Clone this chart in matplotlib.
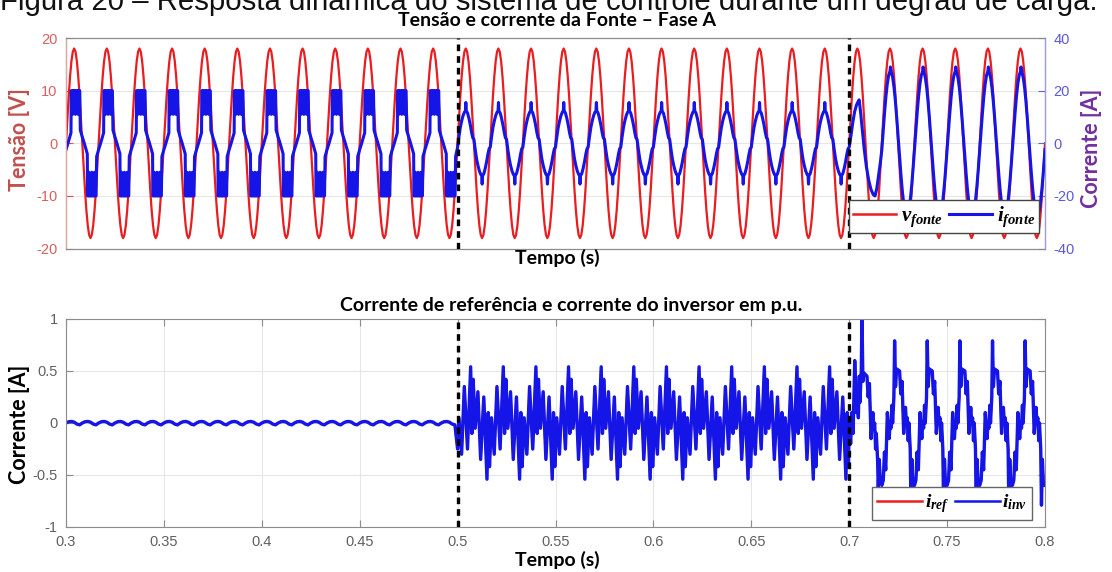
import numpy as np
import matplotlib
matplotlib.use('Agg')
import matplotlib.pyplot as plt
from matplotlib.lines import Line2D

plt.rcParams['font.family'] = ['Liberation Sans', 'DejaVu Sans']
plt.rcParams['axes.unicode_minus'] = False
plt.rcParams['mathtext.fontset'] = 'custom'
plt.rcParams['mathtext.it'] = 'Liberation Serif:italic:bold'
plt.rcParams['mathtext.rm'] = 'Liberation Serif:bold'

F = 60.0                      # grid frequency (Hz)
t_steps = [0.5, 0.7]          # load steps

# one grid cycle of each waveform, phase in degrees
v_theta = [0, 15, 30, 45, 60, 75, 90, 105, 120, 135, 150, 165,
           180, 195, 210, 225, 240, 255, 270, 285, 300, 315, 330, 345]
v_fonte = [0, 4.66, 9.0, 12.73, 15.59, 17.39, 18.0, 17.39, 15.59, 12.73, 9.0, 4.66,
           0, -4.66, -9.0, -12.73, -15.59, -17.39, -18.0, -17.39, -15.59, -12.73, -9.0, -4.66]

# source current before the first step (non-linear load only)
i1_theta = [0, 20, 40, 55, 58, 68, 73, 80, 98, 104, 110, 128, 134, 140, 152, 158,
            180, 200, 220, 235, 238, 248, 253, 260, 278, 284, 290, 308, 314, 320, 332, 338]
i1_fonte = [-2.4, -0.2, 2.2, 4.0, 20, 20, 11, 20, 20, 11, 20, 20, 11, 20, 20, 5,
            2.4, 0.2, -2.2, -4.0, -20, -20, -11, -20, -20, -11, -20, -20, -11, -20, -20, -5]

# source current after compensation starts
i2_theta = [0, 15, 30, 45, 60, 75, 86, 91, 96, 110, 125, 140, 155, 168, 174,
            180, 195, 210, 225, 240, 255, 266, 271, 276, 290, 305, 320, 335, 348, 354]
i2_fonte = [-1.5, 2.5, 6.0, 8.5, 10.5, 11.8, 12.3, 15.5, 12.3, 11.5, 9.5, 7.0, 4.0, 2.0, 1.8,
            1.5, -2.5, -6.0, -8.5, -10.5, -11.8, -12.3, -15.5, -12.3, -11.5, -9.5, -7.0, -4.0, -2.0, -1.8]

# source current after the second load step (first cycle is the transient)
i3a_theta = [0, 20, 40, 60, 80, 100, 110, 125, 145, 165, 190, 215, 240, 265, 285, 305, 325, 345]
i3a_fonte = [-1.5, 3, 8, 12, 14.5, 16, 16.5, 12, 5, -2, -9, -14, -17.5, -19.5, -20, -17, -12, -7]
i3_theta = [0, 15, 30, 45, 60, 75, 90, 95, 105, 120, 135, 150, 165,
            180, 195, 210, 225, 240, 255, 270, 275, 285, 300, 315, 330, 345]
i3_fonte = [-2.4, 4.8, 11.6, 17.7, 22.5, 25.8, 27.4, 29.0, 27.1, 24.9, 21.1, 15.8, 9.4,
            2.4, -4.8, -11.6, -17.7, -22.5, -25.8, -27.4, -29.0, -27.1, -24.9, -21.1, -15.8, -9.4]

# inverter current in p.u.
b1_theta = [0, 30, 60, 90, 120, 150, 180, 210, 240, 270, 300, 330]
b1_inv = [0.0, 0.012, 0.015, 0.008, -0.010, -0.018, 0.0, 0.012, 0.015, 0.008, -0.010, -0.018]

b2_theta = [0, 14, 44, 74, 109, 144, 158, 172, 194, 224, 254, 289, 324, 338, 352]
b2_inv = [-0.25, 0.05, -0.30, 0.35, -0.25, 0.54, -0.10, 0.42, -0.05, 0.30, -0.35, 0.25, -0.54, 0.10, -0.42]

b3_theta = [0, 16, 29, 43, 61, 81, 91, 101, 111, 119, 133, 141, 151, 163,
            196, 209, 223, 241, 261, 271, 281, 291, 299, 313, 321, 331, 343]
b3a_inv = [0.0, -0.2, 0.1, -0.1, 0.60, 0.1, 0.3, 0.05, 0.45, 0.2, 0.5, 1.05, 0.40, 0.48,
           0.45, 0.25, 0.38, -0.15, 0.1, -0.05, 0.0, -0.25, -0.1, -0.35, -0.62, -0.35, -0.55]
b3_inv = [-0.60, -0.55, -0.28, -0.45, 0.10, -0.15, 0.0, -0.05, 0.17, 0.0, 0.25, 0.79, 0.35, 0.52,
          0.50, 0.28, 0.40, -0.10, 0.15, 0.0, 0.05, -0.17, 0.0, -0.25, -0.79, -0.35, -0.60]


def tile(theta, vals, t0, ncyc):
    th = np.asarray(theta, dtype=float) / 360.0
    t = np.concatenate([t0 + (k + th) / F for k in range(ncyc)])
    return t, np.tile(np.asarray(vals, dtype=float), ncyc)


def build(parts, t_end, v_end):
    ts, vs = [], []
    for theta, vals, t0, n in parts:
        t, v = tile(theta, vals, t0, n)
        ts.append(t)
        vs.append(v)
    ts.append([t_end])
    vs.append([v_end])
    return np.concatenate(ts), np.concatenate(vs)


t_v, v = build([(v_theta, v_fonte, 0.3, 30)], 0.8, v_fonte[0])
t_i, i_f = build([(i1_theta, i1_fonte, 0.3, 12),
                  (i2_theta, i2_fonte, 0.5, 12),
                  (i3a_theta, i3a_fonte, 0.7, 1),
                  (i3_theta, i3_fonte, 0.7 + 1 / F, 5)], 0.8, i3_fonte[0])
t_b, i_inv = build([(b1_theta, b1_inv, 0.3, 12),
                    (b2_theta, b2_inv, 0.5, 12),
                    (b3_theta, b3a_inv, 0.7, 1),
                    (b3_theta, b3_inv, 0.7 + 1 / F, 5)], 0.8, b3_inv[0])
i_ref = i_inv.copy()

RED = '#ea1c1f'
BLUE = '#1515e8'
W, H = 1112, 572


def fx(px):
    return px / W


def fy(py):
    return 1 - py / H


fig = plt.figure(figsize=(W / 100, H / 100), dpi=100)

# ---- top: source voltage and current ----
ax1 = fig.add_axes([fx(66), fy(248.6), (1045 - 66) / W, (248.6 - 38) / H])
ax1r = ax1.twinx()
ax1.plot(t_v, v, color=RED, lw=1.6)
ax1r.plot(t_i, i_f, color=BLUE, lw=2.2)
for ts in t_steps:
    ax1r.axvline(ts, color='black', lw=2.4, ls=(0, (2, 1.5)), zorder=5)
ax1.set_xlim(0.3, 0.8)
ax1.set_ylim(-20, 20)
ax1r.set_ylim(-40, 40)
ax1.set_yticks([-20, -10, 0, 10, 20])
ax1r.set_yticks([-40, -20, 0, 20, 40])
ax1.set_xticks([])
ax1.grid(axis='y', color='#e6e6e6', lw=0.8)
ax1.tick_params(axis='y', colors='#d9534f', direction='in', length=5, labelsize=10.5, pad=6,
                labelcolor='#d96060')
ax1r.tick_params(axis='y', colors='#6060e0', direction='in', length=5, labelsize=10.5, pad=6,
                 labelcolor='#5a5ad8')
for s in ['top', 'bottom']:
    ax1.spines[s].set_color('#8c8c8c')
    ax1r.spines[s].set_color('#8c8c8c')
ax1r.spines['left'].set_color('#e8a0a0')
ax1r.spines['right'].set_color('#9a9af0')
h1 = [Line2D([], [], color=RED, lw=1.8), Line2D([], [], color=BLUE, lw=2.2)]
leg = ax1r.legend(h1, [r'$v_{fonte}$', r'$i_{fonte}$'], loc='lower right',
                  bbox_to_anchor=(0.994, 0.074), borderaxespad=0, ncol=2,
                  fontsize=15, handlelength=2.1, handletextpad=0.2, columnspacing=0.3,
                  borderpad=0.2, fancybox=False, framealpha=1, edgecolor='#444444')
leg.get_frame().set_linewidth(1.0)
leg.set_zorder(10)

# ---- bottom: reference and inverter current ----
ax2 = fig.add_axes([fx(66), fy(527), (1045 - 66) / W, (527 - 319) / H])
ax2.plot(t_b, i_ref, color=RED, lw=1.6)
ax2.plot(t_b, i_inv, color=BLUE, lw=2.4)
for ts in t_steps:
    ax2.axvline(ts, color='black', lw=2.4, ls=(0, (2, 1.5)), zorder=5)
ax2.set_xlim(0.3, 0.8)
ax2.set_ylim(-1, 1)
xt = [0.3, 0.35, 0.4, 0.45, 0.5, 0.55, 0.6, 0.65, 0.7, 0.75, 0.8]
ax2.set_xticks(xt)
ax2.set_xticklabels(['0.3', '0.35', '0.4', '0.45', '0.5', '0.55', '0.6', '0.65', '0.7', '0.75', '0.8'])
ax2.set_yticks([-1, -0.5, 0, 0.5, 1])
ax2.set_yticklabels(['-1', '-0.5', '0', '0.5', '1'])
ax2.grid(color='#e6e6e6', lw=0.8)
ax2.tick_params(direction='in', top=True, right=True, length=5, colors='#8c8c8c',
                labelcolor='#606060', labelsize=10.5, pad=6)
for s in ax2.spines.values():
    s.set_color('#8c8c8c')
h2 = [Line2D([], [], color=RED, lw=1.8), Line2D([], [], color=BLUE, lw=1.8)]
leg2 = ax2.legend(h2, [r'$i_{ref}$', r'$i_{inv}$'], loc='lower right',
                  bbox_to_anchor=(0.987, 0.034), borderaxespad=0, ncol=2,
                  fontsize=14, handlelength=2.3, handletextpad=0.15, columnspacing=0.3,
                  borderpad=0.25, fancybox=False, framealpha=1, edgecolor='#666666')
leg2.get_frame().set_linewidth(1.0)
leg2.set_zorder(10)

# ---- texts ----
bold = dict(family=['Lato', 'DejaVu Sans'], fontweight='bold')
fig.text(fx(0), fy(9.5), 'Figura 20 – Resposta dinâmica do sistema de controle durante um degrau de carga.',
         fontsize=21.2, va='baseline', ha='left', color='#111111')
fig.text(fx(557), fy(21), 'Tensão e corrente da Fonte – Fase A', ha='center', va='center',
         fontsize=14, **bold)
fig.text(fx(557), fy(258), 'Tempo (s)', ha='center', va='center', fontsize=14, **bold)
fig.text(fx(571), fy(306), 'Corrente de referência e corrente do inversor em p.u.',
         ha='center', va='center', fontsize=14, **bold)
fig.text(fx(557), fy(560), 'Tempo (s)', ha='center', va='center', fontsize=14, **bold)
fig.text(fx(20), fy(140), 'Tensão [V]', ha='center', va='center', rotation=90,
         fontsize=15.5, color='#c0504d', **bold)
fig.text(fx(1092), fy(148), 'Corrente [A]', ha='center', va='center', rotation=90,
         fontsize=15.5, color='#7030a0', **bold)
fig.text(fx(20), fy(424), 'Corrente [A]', ha='center', va='center', rotation=90,
         fontsize=15.5, color='black', **bold)

fig.savefig('out.png', dpi=100)
